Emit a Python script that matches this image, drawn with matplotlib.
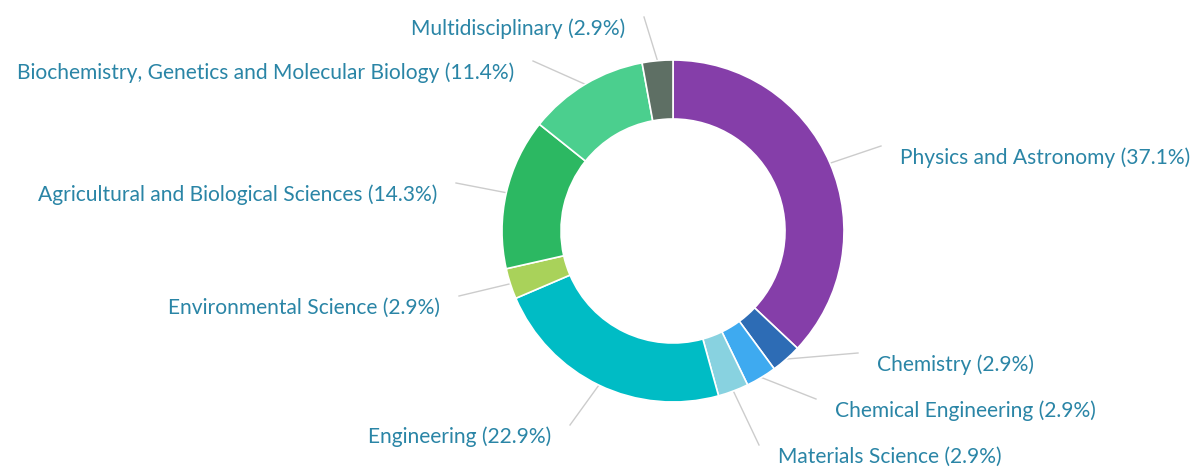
import numpy as np
import matplotlib.pyplot as plt

# subject areas, clockwise from the top
labels = ['Physics and Astronomy', 'Chemistry', 'Chemical Engineering',
          'Materials Science', 'Engineering', 'Environmental Science',
          'Agricultural and Biological Sciences',
          'Biochemistry, Genetics and Molecular Biology', 'Multidisciplinary']
shares = [37.1, 2.9, 2.9, 2.9, 22.9, 2.9, 14.3, 11.4, 2.9]
colors = ['#853ea9', '#2d6cb5', '#3eaaf0', '#88d2e0', '#00bcc5',
          '#a9d25a', '#2cb862', '#4bcf8e', '#5e6f64']

# label anchors in pixels (x of the text edge next to the pie, y of text centre)
label_x = [900, 877, 835, 778, 551, 440, 437, 514, 625]
label_y = [158, 365, 411, 457, 437, 308, 195, 73, 29]

W, H = 1192, 468
cx, cy, R = 673, 231, 171
text_color = '#2a85a6'

fig = plt.figure(figsize=(W / 100, H / 100), dpi=100)
ax = fig.add_axes([0, 0, 1, 1])

ax.pie(shares, colors=colors, startangle=90, counterclock=False,
       center=(cx, H - cy), radius=R,
       wedgeprops=dict(width=R * 0.345, edgecolor='white', linewidth=1.2))

total = sum(shares)
cum = np.cumsum([0] + shares[:-1])
for i, name in enumerate(labels):
    mid = (cum[i] + shares[i] / 2) / total * 2 * np.pi
    x0 = cx + R * np.sin(mid)
    y0 = cy - R * np.cos(mid)
    right = x0 > cx
    tx, ty = label_x[i], label_y[i]
    x1 = tx - 19 if right else tx + 19
    y1 = ty - 12
    ax.plot([x0, x1], [H - y0, H - y1], color='#cccccc', lw=1, zorder=0)
    ax.text(tx, H - ty, f'{name} ({shares[i]}%)', ha='left' if right else 'right',
            va='center', color=text_color, fontsize=15.1, family='Lato')

ax.set_xlim(0, W)
ax.set_ylim(0, H)
ax.set_aspect('equal')
ax.axis('off')

fig.savefig('out.png', dpi=100)
